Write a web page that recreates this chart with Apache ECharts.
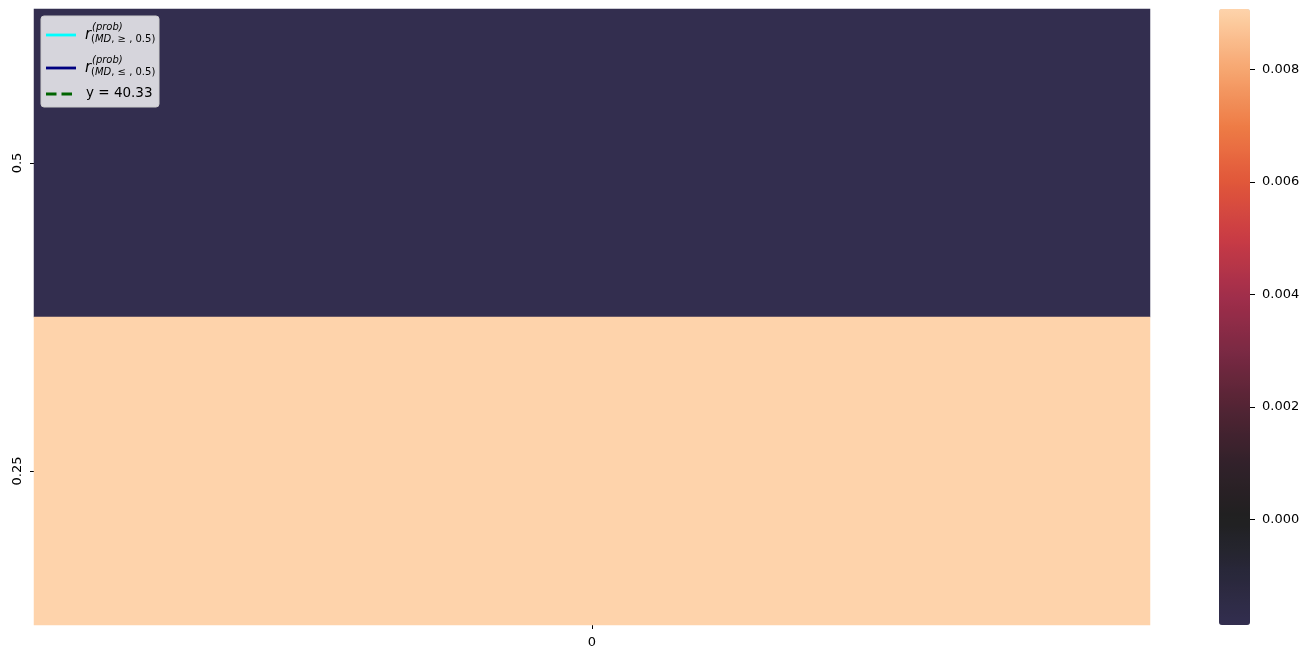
<!DOCTYPE html>
<html>
<head>
<meta charset="utf-8">
<script src="https://cdn.jsdelivr.net/npm/echarts@6/dist/echarts.min.js"></script>
<style>
  html, body { margin: 0; padding: 0; background: #ffffff; }
  #chart { width: 1309px; height: 659px; }
</style>
</head>
<body>
<div id="chart"></div>
<script>
// ---- data ----
const rowLabels = ['0.5', '0.25'];
const colLabels = ['0'];
const cellValues = [-0.00188, 0.00908];
const colorbarTicks = [0, 0.002, 0.004, 0.006, 0.008];
const legendLabels = ['r_ge', 'r_le', 'y = 40.33'];
const vMin = -0.00188;
const vMax = 0.00908;

// ---- colormap (style) ----
const cmapStops = [
  [-0.00188, '#332e4f'],
  [-0.0010, '#29283b'],
  [0.0000, '#202020'],
  [0.0010, '#31212a'],
  [0.0020, '#532434'],
  [0.0030, '#7b2943'],
  [0.0040, '#a22e4b'],
  [0.0050, '#c93b45'],
  [0.0060, '#e1573a'],
  [0.0070, '#ee7c46'],
  [0.0080, '#f6a670'],
  [0.0090, '#fdd0a6'],
  [0.00908, '#fed3ab']
];
function hex2rgb(h) { return [1,3,5].map(i => parseInt(h.substr(i,2),16)); }
function sample(v) {
  for (let i = 0; i < cmapStops.length - 1; i++) {
    const [a, ca] = cmapStops[i], [b, cb] = cmapStops[i+1];
    if (v <= b || i === cmapStops.length - 2) {
      const t = Math.max(0, Math.min(1, (v - a) / (b - a)));
      const A = hex2rgb(ca), B = hex2rgb(cb);
      const c = A.map((x, k) => Math.round(x + (B[k] - x) * t));
      return 'rgb(' + c.join(',') + ')';
    }
  }
}
const N = 80;
const rampColors = [];
for (let i = 0; i < N; i++) rampColors.push(sample(vMin + (vMax - vMin) * i / (N - 1)));

const heatData = [];
rowLabels.forEach((r, i) => colLabels.forEach((c, j) => heatData.push([j, i, cellValues[i]])));

const FONT = '"DejaVu Sans", sans-serif';
const chart = echarts.init(document.getElementById('chart'), null, { renderer: 'canvas' });

function legendLine(color, dash, lineY) {
  return { type: 'line', z: 101, shape: { x1: 46, y1: lineY, x2: 76, y2: lineY },
           style: { stroke: color, lineWidth: 2.8, lineDash: dash, lineCap: 'butt' } };
}
function mathLabel(rel, yR, ySup, ySub) {
  return [
    { type: 'text', z: 101, x: 85, y: yR, style: { text: 'r', font: 'italic 15px ' + FONT, fill: '#000', verticalAlign: 'middle' } },
    { type: 'text', z: 101, x: 92, y: ySup, style: { text: '(prob)', font: 'italic 10px ' + FONT, fill: '#000', verticalAlign: 'middle' } },
    { type: 'text', z: 101, x: 91, y: ySub, style: {
        text: '{p|(}{i|MD}{p|, ' + rel + ' , 0.5)}',
        rich: { p: { fontSize: 10, fontFamily: FONT, fill: '#000' }, i: { fontSize: 10, fontFamily: FONT, fontStyle: 'italic', fill: '#000' } },
        verticalAlign: 'middle' } }
  ];
}

const option = {
  backgroundColor: '#ffffff',
  animation: false,
  grid: [
    { left: 34, top: 9, width: 1116, height: 616 },
    { left: 1219, top: 9, width: 31, height: 616 }
  ],
  xAxis: [
    { type: 'category', gridIndex: 0, data: colLabels,
      axisLine: { show: false },
      axisTick: { show: true, alignWithLabel: true, length: 4, lineStyle: { color: '#000' } },
      axisLabel: { color: '#000', fontSize: 13, fontFamily: FONT, margin: 11 },
      splitLine: { show: false } },
    { type: 'category', gridIndex: 1, data: [''], show: false }
  ],
  yAxis: [
    { type: 'category', gridIndex: 0, data: rowLabels, inverse: true,
      axisLine: { show: false },
      axisTick: { show: true, alignWithLabel: true, length: 4, lineStyle: { color: '#000' } },
      axisLabel: { color: '#000', fontSize: 13, fontFamily: FONT, rotate: 90, margin: 10 },
      splitLine: { show: false } },
    { type: 'value', gridIndex: 1, position: 'right', min: vMin, max: vMax,
      axisLine: { show: false },
      splitLine: { show: false },
      axisTick: { show: true, length: 5, customValues: colorbarTicks, lineStyle: { color: '#000' } },
      axisLabel: { show: true, customValues: colorbarTicks, color: '#000', fontSize: 13, fontFamily: FONT, margin: 12,
                   formatter: v => Number(v).toFixed(3) } }
  ],
  visualMap: {
    type: 'continuous', min: vMin, max: vMax, calculable: false,
    seriesIndex: 0, orient: 'vertical', left: 1219, top: 9, padding: 0,
    itemWidth: 31, itemHeight: 616, text: null, showLabel: false, hoverLink: false,
    inRange: { color: rampColors }
  },
  series: [
    { type: 'heatmap', xAxisIndex: 0, yAxisIndex: 0, data: heatData,
      itemStyle: { borderWidth: 0 }, emphasis: { disabled: true } }
  ],
  graphic: [
    { type: 'rect', z: 100, shape: { x: 41, y: 16, width: 118, height: 91, r: 3 },
      style: { fill: 'rgba(255,255,255,0.8)', stroke: '#cccccc', lineWidth: 1 } },
    legendLine('#00ffff', null, 35),
    legendLine('#000080', null, 68),
    legendLine('#006400', [10.5, 5], 94)
  ].concat(mathLabel('\u2265', 35, 27, 39.5))
   .concat(mathLabel('\u2264', 68, 60, 72.5))
   .concat([{ type: 'text', z: 101, x: 86, y: 93, style: { text: legendLabels[2], font: '13.5px ' + FONT, fill: '#000', verticalAlign: 'middle' } }])
};
chart.setOption(option);
</script>
</body>
</html>
